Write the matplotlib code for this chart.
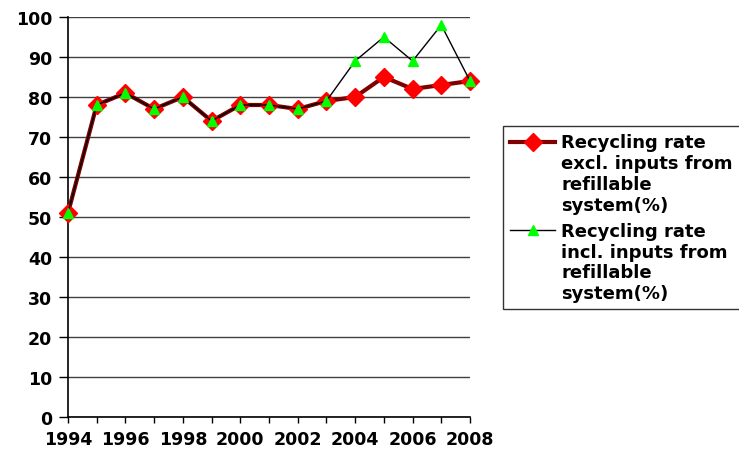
import numpy as np
import matplotlib.pyplot as plt
from matplotlib.legend_handler import HandlerLine2D

# Data
years = [1994, 1995, 1996, 1997, 1998, 1999, 2000, 2001, 2002, 2003, 2004, 2005, 2006, 2007, 2008]
rate_excl = [51, 78, 81, 77, 80, 74, 78, 78, 77, 79, 80, 85, 82, 83, 84]
rate_incl = [51, 78, 81, 77, 80, 74, 78, 78, 77, 79, 89, 95, 89, 98, 84]

label_excl = 'Recycling rate\nexcl. inputs from\nrefillable\nsystem(%)'
label_incl = 'Recycling rate\nincl. inputs from\nrefillable\nsystem(%)'

LEG_FS = 13
LEG_LS = 1.2


# legend handle sitting on the first line of a multi-line label (like Excel)
class TopLineHandler(HandlerLine2D):
    def create_artists(self, legend, orig_handle, xdescent, ydescent,
                       width, height, fontsize, trans):
        arts = super().create_artists(legend, orig_handle, xdescent, ydescent,
                                      width, height, fontsize, trans)
        shift = 1.5 * LEG_LS * fontsize
        for a in arts:
            a.set_ydata(np.asarray(a.get_ydata()) + shift)
        return arts


plt.rcParams['font.family'] = ['DejaVu Sans']
plt.rcParams['font.weight'] = 'bold'

fig = plt.figure(figsize=(7.39, 4.52), dpi=100)
ax = fig.add_axes([0.092, 0.0752, 0.544, 0.885])

l1, = ax.plot(years, rate_excl, color='#800000', linewidth=3, marker='D', markersize=9,
              markerfacecolor='#ff0000', markeredgecolor='#ff0000', label=label_excl,
              clip_on=False, zorder=3)
l2, = ax.plot(years, rate_incl, color='black', linewidth=1, marker='^', markersize=7,
              markerfacecolor='#00ff00', markeredgecolor='#00ff00', label=label_incl,
              clip_on=False, zorder=4)

ax.set_xlim(1994, 2008)
ax.set_ylim(0, 100)
ax.set_yticks(np.arange(0, 101, 10))
ax.set_xticks(years, minor=True)
ax.set_xticks(years[::2])
ax.grid(axis='y', color='#404040', linewidth=1)
ax.set_axisbelow(True)

for s in ['top', 'right']:
    ax.spines[s].set_visible(False)
for s in ['left', 'bottom']:
    ax.spines[s].set_color('black')
    ax.spines[s].set_linewidth(1.2)

ax.tick_params(axis='y', length=6.5, width=1, labelsize=12.5, pad=5)
ax.tick_params(axis='x', which='both', length=4, width=1, labelsize=12.5, pad=5)
for lab in ax.get_xticklabels() + ax.get_yticklabels():
    lab.set_fontweight('bold')

leg = fig.legend(handles=[l1, l2], loc='upper left',
                 bbox_to_anchor=(503 / 739, 1 - 127 / 452),
                 borderaxespad=0, fontsize=LEG_FS, frameon=True, fancybox=False,
                 edgecolor='black', handlelength=2.5, borderpad=0.4,
                 labelspacing=0.45, handletextpad=0.33,
                 handler_map={l1: TopLineHandler(), l2: TopLineHandler()})
leg.get_frame().set_linewidth(1)
for t in leg.get_texts():
    t.set_fontweight('bold')
    t.set_linespacing(LEG_LS)

fig.savefig('out.png', dpi=100)
